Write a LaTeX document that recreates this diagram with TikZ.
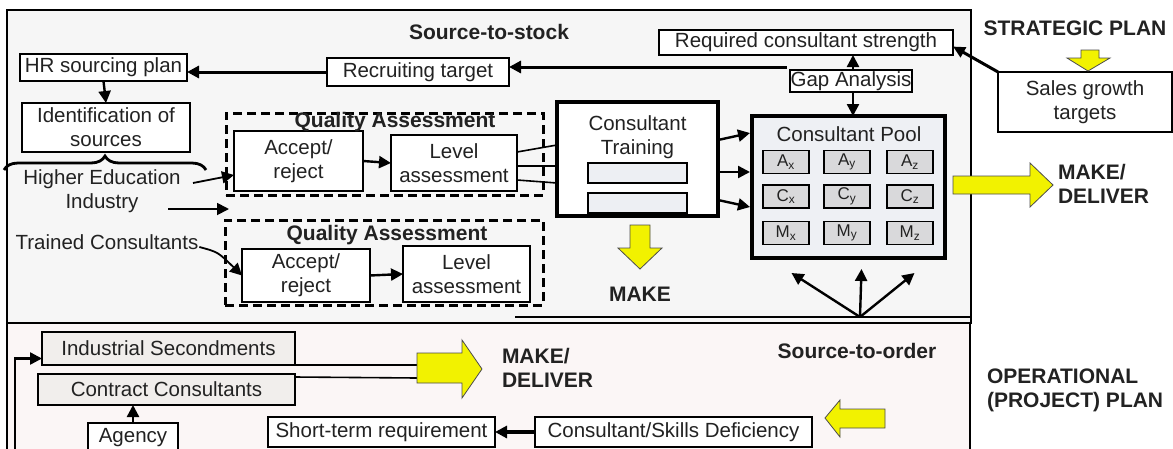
\documentclass[tikz,border=0pt]{standalone}
\usepackage{fontspec}
\setmainfont{Liberation Sans}
\usetikzlibrary{calc,arrows.meta,decorations.pathreplacing}
\definecolor{panelA}{HTML}{F6F6F6}
\definecolor{panelB}{HTML}{FBF6F6}
\definecolor{ylw}{HTML}{F2F200}
\definecolor{cellgray}{HTML}{D9D9DB}
\definecolor{poolfill}{HTML}{EEF0F4}
\definecolor{barfill}{HTML}{EDEFF3}
\definecolor{secfill}{HTML}{F1EEEC}
\definecolor{ink}{HTML}{222222}
\newcommand\myBody{\fontsize{20.5}{24}\selectfont}
\newcommand\myBold{\fontsize{21}{24}\bfseries\selectfont}
\newcommand\myCell{\fontsize{17}{18}\selectfont}
\begin{document}
\begin{tikzpicture}[x=1pt,y=-1pt,
  every node/.style={inner sep=0pt, outer sep=0pt, text=ink},
  box/.style={draw, line width=1.6pt, fill=white, align=center, font=\myBody},
  secbox/.style={box, fill=secfill},
  thickbox/.style={draw, line width=3.5pt, align=center},
  bar/.style={draw, line width=1.4pt, fill=barfill, minimum width=99pt, minimum height=20pt},
  cell/.style={draw, line width=1.3pt, fill=cellgray, minimum width=46pt, minimum height=23pt, font=\myCell},
  qabox/.style={draw, line width=3pt, dash pattern=on 9pt off 5pt},
  title/.style={font=\myBold, align=center},
  plain/.style={font=\myBody, align=center},
  arr/.style={line width=2.4pt, -{Triangle[length=12pt,width=12pt]}},
  link/.style={line width=1.6pt},
  yarrow/.style={fill=ylw, draw=black!70, line width=0.8pt},
  frame/.style={line width=1.8pt}]
\useasboundingbox (0,0) rectangle (1173,448);
\clip (0,0) rectangle (1173,448);

% panels
\fill[white] (0,0) rectangle (1173,448);
\filldraw[fill=panelA, frame] (7,10) rectangle (971,323);
\filldraw[fill=panelB, frame] (7,460) -- (7,323) -- (970,323) -- (970,460);
\draw[frame] (515,317) -- (971,317);

% titles
\node[title] (sts) at (489,32) {Source-to-stock};
\node[title] (sto) at (857,351) {Source-to-order};
\node[title] (strat) at (1075,28) {STRATEGIC PLAN};
\node[title, anchor=west, align=left] (oper) at (987,390) {OPERATIONAL\\(PROJECT) PLAN};
\node[title, anchor=west, align=left] (md1) at (1058,183.5) {MAKE/\\DELIVER};
\node[title, anchor=west, align=left] (md2) at (502,368) {MAKE/\\DELIVER};
\node[title] (mk) at (640,294) {MAKE};

% planning boxes
\node[box, minimum width=294pt, minimum height=25pt] (req) at (806,42.5) {Required consultant strength};
\node[box, minimum width=182pt, minimum height=28pt] (rec) at (418,72) {Recruiting target};
\node[box, minimum width=167pt, minimum height=27pt] (hr) at (103.5,67.5) {HR sourcing plan};
\node[box, minimum width=168pt, minimum height=49pt] (ident) at (106,127.5) {Identification of\\sources};
\node[box, minimum width=174pt, minimum height=60pt] (sales) at (1085,102) {Sales growth\\targets};

% sources
\draw[line width=2.8pt, decorate, decoration={brace, amplitude=14pt}] (4,170) -- (206,170);
\node[plain] (he) at (102,191.5) {Higher Education\\Industry};
\node[plain] (tc) at (107,242) {Trained Consultants};

% quality assessment, upper
\node[qabox, minimum width=317pt, minimum height=82pt] (qa1) at (384.5,154) {};
\node[box, minimum width=129pt, minimum height=60pt] (acc1) at (298.5,161) {Accept/\\reject};
\node[box, minimum width=126pt, minimum height=56pt] (lev1) at (454,163) {Level\\assessment};
\node[title] (qa1t) at (395,122) {Quality Assessment};

% quality assessment, lower
\node[qabox, minimum width=318pt, minimum height=85pt] (qa2) at (384,262.5) {};
\node[box, minimum width=128pt, minimum height=53pt] (acc2) at (306,275.5) {Accept/\\reject};
\node[box, minimum width=127pt, minimum height=56pt] (lev2) at (466.5,274) {Level\\assessment};
\node[title] (qa2t) at (387,235) {Quality Assessment};

% training
\node[thickbox, fill=white, minimum width=161pt, minimum height=114pt] (train) at (637.5,159) {};
\node[plain] (traint) at (637.5,137.5) {Consultant\\Training};
\node[bar] (bar1) at (637.5,173) {};
\node[bar] (bar2) at (637.5,203) {};

% consultant pool
\node[thickbox, line width=4.5pt, fill=poolfill, minimum width=193pt, minimum height=142pt] (pool) at (848.5,187) {};
\node[plain] (poolt) at (849,134) {Consultant Pool};
\foreach \r/\yy in {A/162,C/196.5,M/233}
  \foreach \c/\xx in {x/786,y/847,z/910}
    \node[cell] (\r\c) at (\xx,\yy) {\r\textsubscript{\c}};

\node[box, minimum width=122pt, minimum height=22pt] (gap) at (851,81) {Gap Analysis};

% operational boxes
\node[secbox, minimum width=253pt, minimum height=33pt] (indsec) at (168.5,348.5) {Industrial Secondments};
\node[secbox, minimum width=257pt, minimum height=31pt] (contract) at (166.5,389.5) {Contract Consultants};
\node[box, minimum width=90pt, minimum height=30pt] (agency) at (133,438) {Agency};
\node[box, minimum width=227pt, minimum height=30pt] (short) at (381.5,432) {Short-term requirement};
\node[box, minimum width=277pt, minimum height=30pt] (defic) at (673.5,432) {Consultant/Skills Deficiency};

% planning connectors
\draw[arr] (gap.north -| 853,0) -- (req.south -| 853,0);
\draw[arr] (gap.south -| 853,0) -- (pool.north -| 853,0);
\coordinate (gl) at ($(gap.north west)+(-3,-3)$);
\draw[arr, line width=3pt] (gl) -- (gl -| rec.east);
\draw[arr, line width=3pt] (rec.west) -- (rec.west -| hr.east);
\draw[arr] (hr.south) -- (ident.north);
\draw[line width=3pt, -{Triangle[length=12pt,width=11pt]}] (sales.north west) -- ($(req.east)+(0,4)$);

% intake connectors
\draw[arr, line width=1.8pt] (193,183) -- ($(acc1.west)+(0,14)$);
\coordinate (ia) at (168,209);
\coordinate (ib) at (229,209);
\draw[arr, line width=1.8pt] (ia) -- (ib);
\draw[arr, line width=1.8pt] ($(tc.east)+(1,5)$) .. controls (218,252) .. (acc2.west);
\draw[arr] (acc1.east) -- (lev1.west);
\draw[arr] (acc2.east) -- (lev2.west);

% level assessment to training
\draw[link] ($(lev1.east)+(0,-11)$) -- ($(train.west)+(0,-14)$);
\draw[link] ($(lev1.east)+(0,3)$) -- ($(train.west)+(0,7)$);
\draw[link] ($(lev1.east)+(0,17)$) -- ($(train.west)+(0,24)$);

% training to pool
\draw[arr] ($(train.east)+(0,-19)$) -- ($(pool.west)+(-2,-54)$);
\draw[arr] ($(train.east)+(0,13)$) -- ($(pool.west)+(-2,-15)$);
\draw[arr] ($(train.east)+(0,41)$) -- ($(pool.west)+(-2,20)$);

% fan from source-to-order
\coordinate (fan) at (860,317);
\draw[arr] (fan) -- ($(pool.south)+(-57,15)$);
\draw[arr] (fan) -- ($(pool.south)+(13,11)$);
\draw[arr] (fan) -- ($(pool.south)+(66,15)$);

% source-to-order connectors
\coordinate (lb) at (15,460);
\draw[arr] (lb) |- ($(indsec.west)+(0,10)$);
\draw[arr] (agency.north) -- (agency.north |- contract.south);
\draw[arr, line width=3.5pt] (defic.west) -- (short.east);
\coordinate (ya) at (417,365);
\coordinate (yb) at (417,378);
\draw[link] (indsec.south east) -- (ya);
\draw[link] ($(contract.north east)+(0,3)$) -- (yb);

% block arrows
\filldraw[yarrow] (1081,50) -- (1099,50) -- (1099,58) -- (1110,58) -- (1088,71) -- (1067,58) -- (1081,58) -- cycle;
\filldraw[yarrow] (953,176) -- (1030,176) -- (1030,163) -- (1053,185) -- (1030,207) -- (1030,194) -- (953,194) -- cycle;
\filldraw[yarrow] (630,225) -- (650,225) -- (650,248) -- (662,248) -- (640,269) -- (618,248) -- (630,248) -- cycle;
\filldraw[yarrow] (417,353) -- (462,353) -- (462,340) -- (482,369) -- (462,398) -- (462,383) -- (417,383) -- cycle;
\filldraw[yarrow] (885,409) -- (840,409) -- (840,400) -- (825,418) -- (840,437) -- (840,428) -- (885,428) -- cycle;
\end{tikzpicture}
\end{document}
